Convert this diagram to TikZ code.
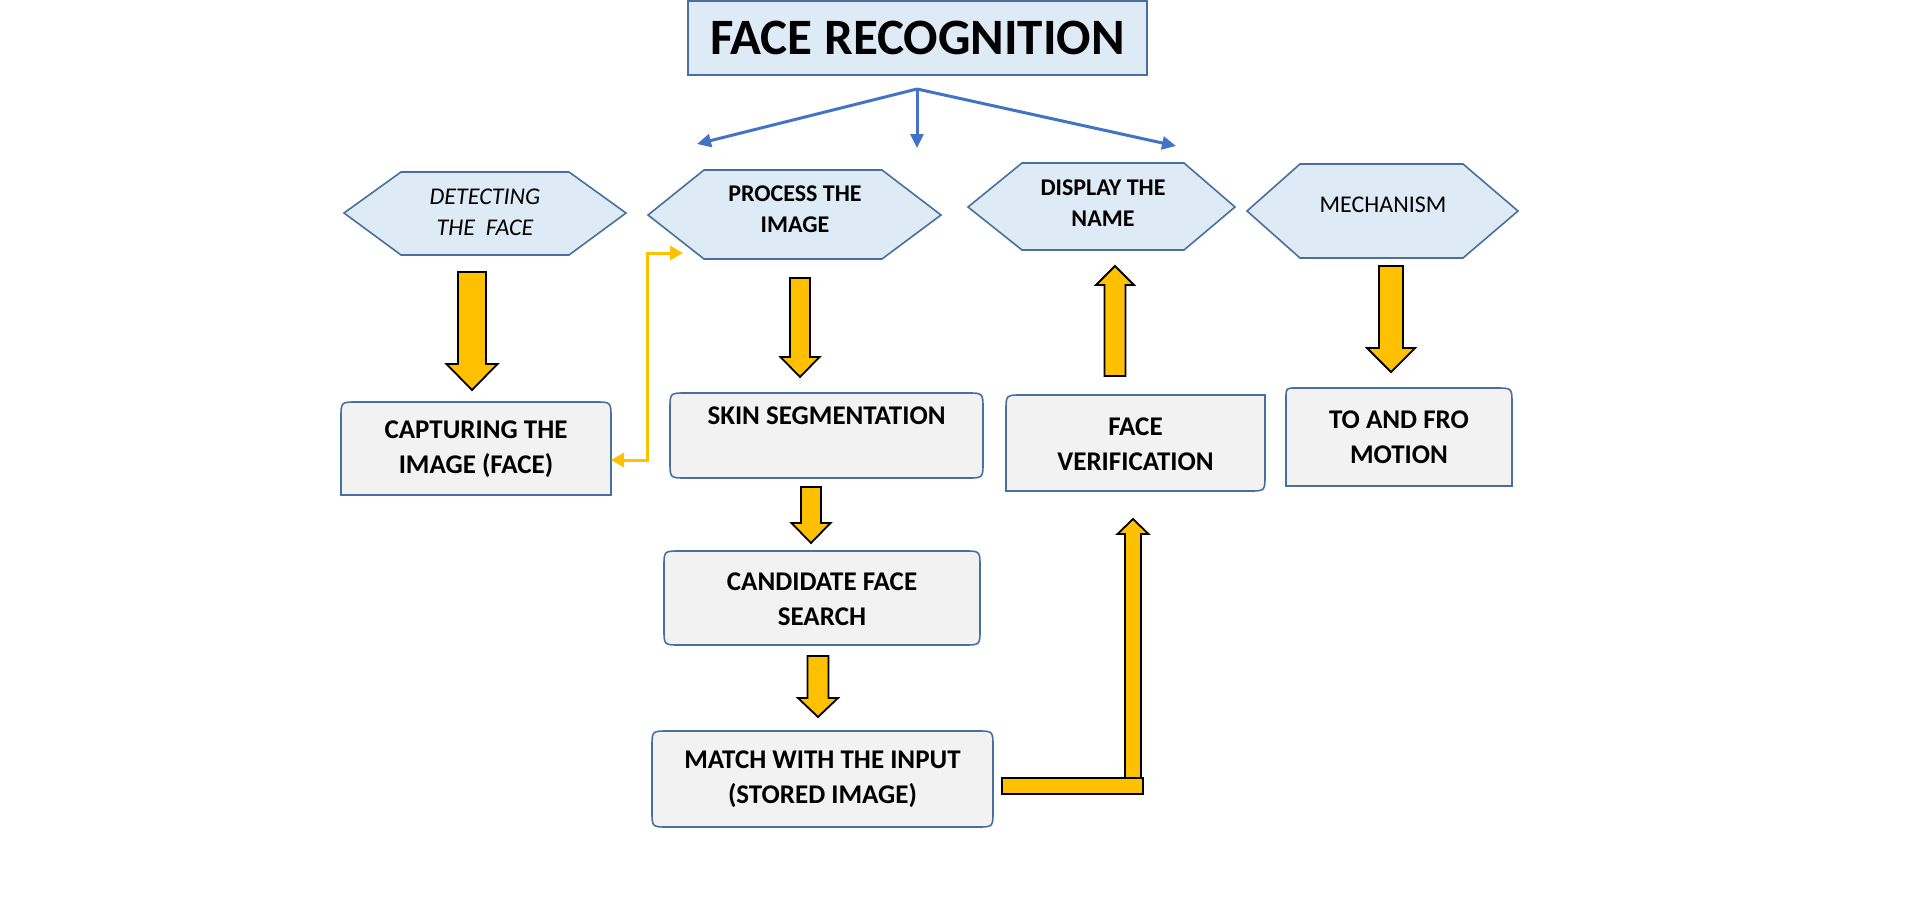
\documentclass[tikz,border=0pt]{standalone}
\usepackage{fontspec}
\setmainfont{Carlito}
\usetikzlibrary{arrows.meta,calc}
\definecolor{hexfill}{RGB}{222,235,247}
\definecolor{boxfill}{RGB}{242,242,242}
\definecolor{edgeblue}{RGB}{72,112,158}
\definecolor{fanblue}{RGB}{68,114,196}
\definecolor{gold}{RGB}{255,192,0}
\tikzset{
  hexline/.style={draw=edgeblue,fill=hexfill,line width=1.6pt},
  hextext/.style={align=center,font=\fontsize{24}{31}\selectfont,inner sep=0pt},
  boxline/.style={draw=edgeblue,fill=boxfill,line width=1.6pt},
  boxtext/.style={align=center,font=\bfseries\fontsize{27}{35}\selectfont,inner sep=0pt,outer sep=0pt},
  titlebox/.style={draw=edgeblue,fill=hexfill,line width=2pt,inner sep=0pt,outer sep=0pt,
    font=\bfseries\fontsize{51}{58}\selectfont},
  blockarrow/.style={fill=gold,draw=black,line width=1.8pt},
  fanarrow/.style={draw=fanblue,line width=3pt,-{Triangle[length=14pt,width=13pt]}},
  thinlink/.style={draw=gold,line width=3pt,{Triangle[length=13pt,width=14pt]}-{Triangle[length=13pt,width=14pt]}}
}
\newcommand\myhex[7]{\draw[hexline] (#1,#6) -- (#2,#5) -- (#3,#5) -- (#4,#6) -- (#3,#7) -- (#2,#7) -- cycle;}
\newcommand\myrbox[8]{\draw[boxline] (#1,{#2+#5}) .. controls (#1,#2) .. ({#1+#5},#2) -- ({#3-#6},#2) .. controls (#3,#2) .. (#3,{#2+#6}) -- (#3,{#4-#7}) .. controls (#3,#4) .. ({#3-#7},#4) -- ({#1+#8},#4) .. controls (#1,#4) .. (#1,{#4-#8}) -- cycle;}
\newcommand\myvarrow[6]{\draw[blockarrow] ({#1-#5/2},#2) -- ({#1-#5/2},#3) -- ({#1-#6/2},#3) -- (#1,#4) -- ({#1+#6/2},#3) -- ({#1+#5/2},#3) -- ({#1+#5/2},#2) -- cycle;}
\begin{document}
\begin{tikzpicture}[x=1pt,y=-1pt]
\useasboundingbox (0,0) rectangle (1914,913);
\fill[white] (0,0) rectangle (1914,913);

% title
\node[titlebox,minimum width=459pt,minimum height=74pt] (title) at (917.5,38) {FACE RECOGNITION};
\coordinate (fan) at (917,89);
\coordinate (toL) at (697,144);
\coordinate (toM) at (917,148);
\coordinate (toR) at (1176,146);
\draw[fanarrow] (fan) -- (toL);
\draw[fanarrow] (fan) -- (toM);
\draw[fanarrow] (fan) -- (toR);

% hexagons
\myhex{344}{401}{569}{626}{172}{213}{255}
\node[hextext,font=\itshape\fontsize{24}{31}\selectfont] (det) at (485,212) {DETECTING\\THE\ \ FACE};
\myhex{648}{704}{882}{941}{170}{215}{259}
\node[hextext,font=\bfseries\fontsize{24}{31}\selectfont] (proc) at (795,209) {PROCESS THE\\IMAGE};
\myhex{968}{1022}{1184}{1235}{163}{207}{250}
\node[hextext,font=\bfseries\fontsize{24}{31}\selectfont] (disp) at (1103,203) {DISPLAY THE\\NAME};
\myhex{1247}{1300}{1463}{1518}{164}{211}{258}
\node[hextext] (mech) at (1383,205) {MECHANISM};

% boxes
\myrbox{341}{402}{611}{495}{16}{16}{0}{0}
\node[boxtext,minimum width=270pt,minimum height=93pt] (capt) at (476,449) {CAPTURING THE\\IMAGE (FACE)};
\myrbox{670}{393}{983}{478}{16}{16}{16}{16}
\node[boxtext,minimum width=313pt,minimum height=85pt] (skin) at (826.5,438) {SKIN SEGMENTATION\\\strut};
\myrbox{664}{551}{980}{645}{16}{16}{16}{16}
\node[boxtext,minimum width=316pt,minimum height=94pt] (cand) at (822,599) {CANDIDATE FACE\\SEARCH};
\myrbox{652}{731}{993}{827}{16}{16}{16}{16}
\node[boxtext,minimum width=341pt,minimum height=96pt] (match) at (822.5,779) {MATCH WITH THE INPUT\\(STORED IMAGE)};
\myrbox{1006}{395}{1265}{491}{16}{0}{16}{0}
\node[boxtext,minimum width=259pt,minimum height=96pt] (fver) at (1135.5,444) {FACE\\VERIFICATION};
\myrbox{1286}{388}{1512}{486}{10}{16}{0}{0}
\node[boxtext,minimum width=226pt,minimum height=98pt] (taf) at (1399,437) {TO AND FRO\\MOTION};

% block arrows
\myvarrow{472}{272}{364}{390}{28}{51}
\myvarrow{800}{278}{357}{377}{20}{39}
\myvarrow{811}{487}{523}{543}{20}{39}
\myvarrow{818}{656}{698}{717}{21}{40}
\myvarrow{1391}{266}{348}{372}{24}{48}
\myvarrow{1115}{376}{285}{266}{21}{38}
\myvarrow{1133}{779}{534}{519}{16}{31}
\draw[blockarrow] (1002,778) rectangle (1143,794);

% thin link between capture and process
\coordinate (lowbend) at (647,460);
\coordinate (highbend) at (647,253);
\coordinate (proctip) at (683,253);
\draw[thinlink] (lowbend -| capt.east) -- (lowbend) -- (highbend) -- (proctip);
\end{tikzpicture}
\end{document}
